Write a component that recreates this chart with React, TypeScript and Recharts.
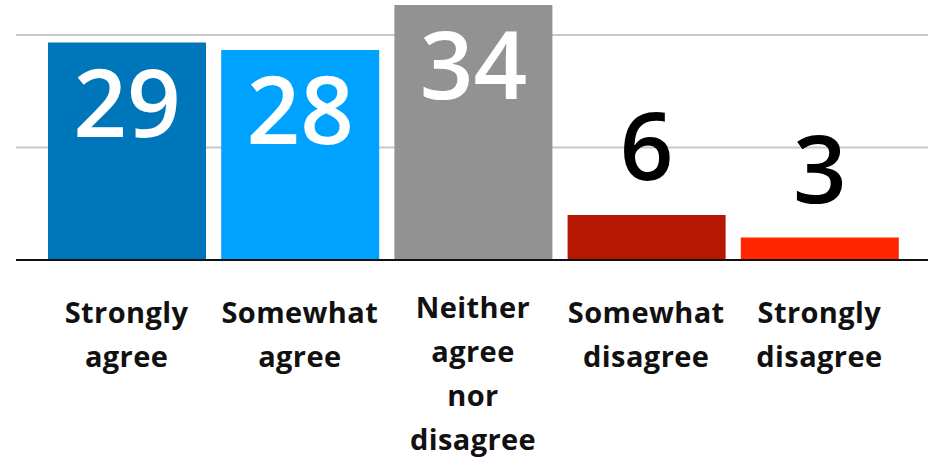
import { BarChart, Bar, XAxis, YAxis, CartesianGrid, Cell, LabelList } from "recharts";

const categories = [
    "Strongly agree",
    "Somewhat agree",
    "Neither agree nor disagree",
    "Somewhat disagree",
    "Strongly disagree",
];
const tickLines = [
    ["Strongly", "agree"],
    ["Somewhat", "agree"],
    ["Neither", "agree", "nor", "disagree"],
    ["Somewhat", "disagree"],
    ["Strongly", "disagree"],
];
const values = [29, 28, 34, 6, 3];
const gridTicks = [15, 30];

const colors = ["#0076BA", "#00A2FF", "#929292", "#B51700", "#FF2600"];
const FONT = "'Open Sans', 'DejaVu Sans', sans-serif";

const data = categories.map((name, i) => ({ name, value: values[i] }));

function CategoryTick(props: any) {
    const { x, y, payload } = props;
    const idx = categories.indexOf(payload.value);
    const lines = tickLines[idx] || [payload.value];
    const shift = lines.length > 2 ? -5 : 0;
    return (
        <text
            x={x}
            y={y + 55 + shift}
            textAnchor="middle"
            fontFamily={FONT}
            fontSize={29}
            fontWeight={700}
            letterSpacing={0.4}
            fill="#111"
        >
            {lines.map((line, i) => (
                <tspan key={i} x={x} dy={i === 0 ? 0 : 44}>
                    {line}
                </tspan>
            ))}
        </text>
    );
}

function ValueLabel(props: any) {
    const { x, y, width, value } = props;
    const inside = value >= 10;
    const cx = x + width / 2;
    return (
        <text
            x={cx}
            y={inside ? y + 94 : y - 35}
            textAnchor="middle"
            fontFamily={FONT}
            fontSize={94}
            fontWeight={600}
            fill={inside ? "#fff" : "#000"}
        >
            {value}
        </text>
    );
}

export default function App() {
    return (
        <div style={{ position: "absolute", left: 0, top: 0, width: 932, height: 461, background: "#fff" }}>
            <BarChart
                width={932}
                height={461}
                data={data}
                margin={{ top: 5, right: 4, left: 16, bottom: 0 }}
            >
                <CartesianGrid
                    vertical={false}
                    horizontalValues={gridTicks}
                    stroke="#c8c8c8"
                    strokeWidth={2}
                />
                <XAxis
                    dataKey="name"
                    height={201}
                    interval={0}
                    padding={{ left: 24, right: 22 }}
                    tickLine={false}
                    axisLine={{ stroke: "#111", strokeWidth: 2 }}
                    tick={<CategoryTick />}
                />
                <YAxis hide domain={[0, 34]} ticks={gridTicks} />
                <Bar dataKey="value" barSize={158} isAnimationActive={false}>
                    {data.map((_, i) => (
                        <Cell key={i} fill={colors[i]} />
                    ))}
                    <LabelList dataKey="value" content={<ValueLabel />} />
                </Bar>
            </BarChart>
        </div>
    );
}
